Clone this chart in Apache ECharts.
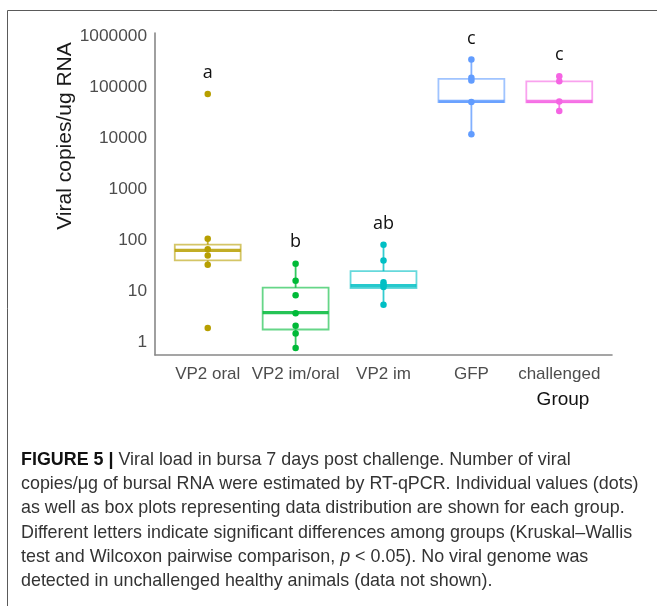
<!DOCTYPE html>
<html><head><meta charset="utf-8">
<script src="https://cdn.jsdelivr.net/npm/echarts@6/dist/echarts.min.js"></script>
<style>html,body{margin:0;padding:0;background:#fff}#c{width:657px;height:606px}</style>
</head><body><div id="c"></div>
<script>
// ---- data ----
const categories = ['VP2 oral', 'VP2 im/oral', 'VP2 im', 'GFP', 'challenged'];
const positions = [1, 2, 3, 4, 5];
const colors = ['#B79F00', '#00BA38', '#00BFC4', '#619CFF', '#F564E3'];
const whiskerLow = [33, 0.77, 5.4, 11900, 34000];
const quart1 = [40, 1.77, 11.5, 51000, 50000];
const medians = [63, 3.8, 12.8, 52500, 52500];
const quart3 = [82, 11.7, 24.7, 145000, 130000];
const whiskerHigh = [107, 34.4, 81, 347000, 164000];
const pointsVP2oral = [73000, 107, 66, 50, 33, 1.9];
const pointsVP2imOral = [34.4, 16, 8.3, 3.7, 2.1, 1.48, 0.77];
const pointsVP2im = [81, 40, 15, 13.4, 12, 5.4];
const pointsGFP = [347000, 152000, 135000, 51000, 11900];
const pointsChallenged = [164000, 130000, 52500, 34000];
const letters = ['a', 'b', 'ab', 'c', 'c'];
const letterY = [187000, 94, 210, 866000, 422000];
const yTicks = [1, 10, 100, 1000, 10000, 100000, 1000000];
const captionLines = [
  '{b|FIGURE 5 |} Viral load in bursa 7 days post challenge. Number of viral',
  'copies/\u03bcg of bursal RNA were estimated by RT-qPCR. Individual values (dots)',
  'as well as box plots representing data distribution are shown for each group.',
  'Different letters indicate significant differences among groups (Kruskal\u2013Wallis',
  'test and Wilcoxon pairwise comparison, {i|p} < 0.05). No viral genome was',
  'detected in unchallenged healthy animals (data not shown).'
];

const pointGroups = [pointsVP2oral, pointsVP2imOral, pointsVP2im, pointsGFP, pointsChallenged];
const boxData = positions.map((p, i) => [p, whiskerLow[i], quart1[i], medians[i], quart3[i], whiskerHigh[i]]);

const chart = echarts.init(document.getElementById('c'), null, {renderer: 'canvas'});

const series = [{
  type: 'custom',
  z: 2,
  encode: {x: 0, y: [1, 2, 3, 4, 5]},
  data: boxData,
  renderItem(params, api) {
    const x = api.value(0);
    const lo = api.value(1), q1 = api.value(2), md = api.value(3), q3 = api.value(4), hi = api.value(5);
    const hw = 0.375;
    const xl = api.coord([x - hw, md])[0], xr = api.coord([x + hw, md])[0];
    const pLo = api.coord([x, lo]), pQ1 = api.coord([x, q1]), pMd = api.coord([x, md]);
    const pQ3 = api.coord([x, q3]), pHi = api.coord([x, hi]);
    const c = colors[params.dataIndex];
    return {type: 'group', children: [
      {type: 'line', shape: {x1: pHi[0], y1: pHi[1], x2: pQ3[0], y2: pQ3[1]}, style: {stroke: c, lineWidth: 1.8, opacity: 0.8}},
      {type: 'line', shape: {x1: pLo[0], y1: pLo[1], x2: pQ1[0], y2: pQ1[1]}, style: {stroke: c, lineWidth: 1.8, opacity: 0.8}},
      {type: 'rect', shape: {x: xl, y: pQ3[1], width: xr - xl, height: pQ1[1] - pQ3[1]}, style: {fill: 'none', stroke: c, lineWidth: 1.8, opacity: 0.6}},
      {type: 'line', shape: {x1: xl, y1: pMd[1], x2: xr, y2: pMd[1]}, style: {stroke: c, lineWidth: 3.4, opacity: 0.85}}
    ]};
  }
}];

pointGroups.forEach((arr, i) => {
  series.push({
    type: 'scatter', z: 3, symbolSize: 6.5,
    itemStyle: {color: colors[i], opacity: 1},
    data: arr.map(v => [positions[i], v])
  });
});

series.push({
  type: 'scatter', z: 4, symbolSize: 0, silent: true,
  itemStyle: {color: 'transparent'},
  label: {show: true, position: 'inside', opacity: 1, color: '#111', fontSize: 18, fontFamily: 'Open Sans',
    formatter: p => p.data[2]},
  data: positions.map((p, i) => [p, letterY[i], letters[i]])
});

const graphics = [
  {type: 'rect', shape: {x: 7.5, y: 10.5, width: 800, height: 800}, style: {fill: 'none', stroke: '#5a5a5a', lineWidth: 1}, silent: true, z: -1},
  {type: 'text', x: 65, y: 136, rotation: Math.PI / 2, style: {text: 'Viral copies/ug RNA', fill: '#1a1a1a', font: '21px "Liberation Sans", Arial', align: 'center', verticalAlign: 'middle'}},
  {type: 'text', x: 563, y: 400, style: {text: 'Group', fill: '#111', font: '19px "Liberation Sans", Arial', align: 'center', verticalAlign: 'middle'}}
];
captionLines.forEach((t, i) => {
  graphics.push({type: 'text', x: 21, y: 460 + i * 24.2, style: {
    text: t, fill: '#333', font: '17.9px "Liberation Sans", Arial', verticalAlign: 'middle', align: 'left',
    rich: {
      b: {fontWeight: 'bold', fill: '#111', fontSize: 17.9, fontFamily: 'Liberation Sans'},
      i: {fontStyle: 'italic', fill: '#333', fontSize: 17.9, fontFamily: 'Liberation Sans'}
    }
  }});
});

chart.setOption({
  animation: false,
  backgroundColor: '#fff',
  grid: {left: 155, right: 45, top: 33, bottom: 251, containLabel: false},
  xAxis: {
    type: 'value', min: 0.4, max: 5.6,
    splitLine: {show: false},
    axisTick: {show: false},
    axisLine: {show: true, lineStyle: {color: '#888', width: 1.6}},
    axisLabel: {customValues: positions, color: '#4d4d4d', fontSize: 17, fontFamily: 'Liberation Sans', margin: 11,
      formatter: v => categories[Math.round(v) - 1] || ''}
  },
  yAxis: {
    type: 'log', logBase: 10, min: 0.56, max: 1150000,
    splitLine: {show: false},
    axisTick: {show: false},
    axisLine: {show: true, lineStyle: {color: '#888', width: 1.6}},
    axisLabel: {color: '#4d4d4d', fontSize: 17.3, fontFamily: 'Liberation Sans', margin: 8,
      formatter: v => {
        const hit = yTicks.find(t => Math.abs(Math.log10(v) - Math.log10(t)) < 1e-6);
        return hit !== undefined ? String(hit) : '';
      }}
  },
  series: series,
  graphic: graphics
});
</script></body></html>
